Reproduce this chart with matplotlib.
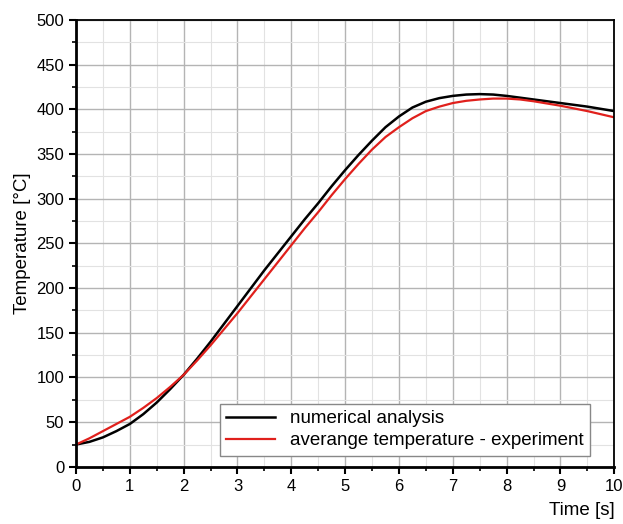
import matplotlib
matplotlib.use('Agg')
import matplotlib.pyplot as plt
from matplotlib.ticker import MultipleLocator

plt.rcParams['font.family'] = ['Liberation Sans', 'DejaVu Sans']

time_s = [0, 0.25, 0.5, 0.75, 1, 1.25, 1.5, 1.75, 2, 2.25, 2.5, 2.75, 3, 3.25, 3.5, 3.75,
          4, 4.25, 4.5, 4.75, 5, 5.25, 5.5, 5.75, 6, 6.25, 6.5, 6.75, 7, 7.25, 7.5, 7.75,
          8, 8.25, 8.5, 8.75, 9, 9.25, 9.5, 9.75, 10]
numerical = [25, 28, 33, 40, 48, 59, 72, 87, 103, 121, 140, 160, 180, 200, 220, 239,
             258, 277, 295, 314, 332, 349, 365, 380, 392, 402, 408.5, 412.5, 415, 416.5, 417, 416.5,
             415, 413, 411, 409, 407, 405, 403, 400.5, 398]
experiment = [25, 32, 40, 48, 56, 66, 77, 89.5, 103, 119, 136, 154, 172, 191, 210, 229,
              248, 267, 285, 304, 322, 339, 355, 369, 380, 390, 398, 403, 407, 409.5, 411, 412,
              412, 411, 409, 406.5, 404, 401, 398, 394.5, 391]

fig = plt.figure(figsize=(6.23, 5.24), dpi=100)
ax = fig.add_axes([0.122, 0.109, 0.864, 0.853])

ax.plot(time_s, numerical, color='black', lw=1.8, label='numerical analysis')
ax.plot(time_s, experiment, color='#e0201c', lw=1.6, label='averange temperature - experiment')

ax.set_xlim(0, 10)
ax.set_ylim(0, 500)
ax.xaxis.set_major_locator(MultipleLocator(1))
ax.xaxis.set_minor_locator(MultipleLocator(0.5))
ax.yaxis.set_major_locator(MultipleLocator(50))
ax.yaxis.set_minor_locator(MultipleLocator(25))
ax.grid(which='major', color='#b4b4b4', lw=1.0)
ax.grid(which='minor', color='#e2e2e2', lw=0.8)
ax.set_axisbelow(True)

for s in ['left', 'bottom']:
    ax.spines[s].set_linewidth(2.0)
for s in ['top', 'right']:
    ax.spines[s].set_linewidth(1.3)

ax.tick_params(which='major', direction='out', length=5, width=1.5, labelsize=12)
ax.tick_params(which='minor', direction='out', length=3, width=1.2)

ax.set_ylabel('Temperature [°C]', fontsize=13.5, labelpad=4)
ax.set_xlabel('Time [s]', fontsize=13.5, loc='right', labelpad=6)

ax.legend(loc='lower right', bbox_to_anchor=(0.955, 0.025), borderaxespad=0,
          fontsize=13.5, frameon=True, fancybox=False, edgecolor='#888888', framealpha=1,
          handlelength=2.6, borderpad=0.35, labelspacing=0.25)

plt.savefig('out.png', dpi=100)
plt.close()
